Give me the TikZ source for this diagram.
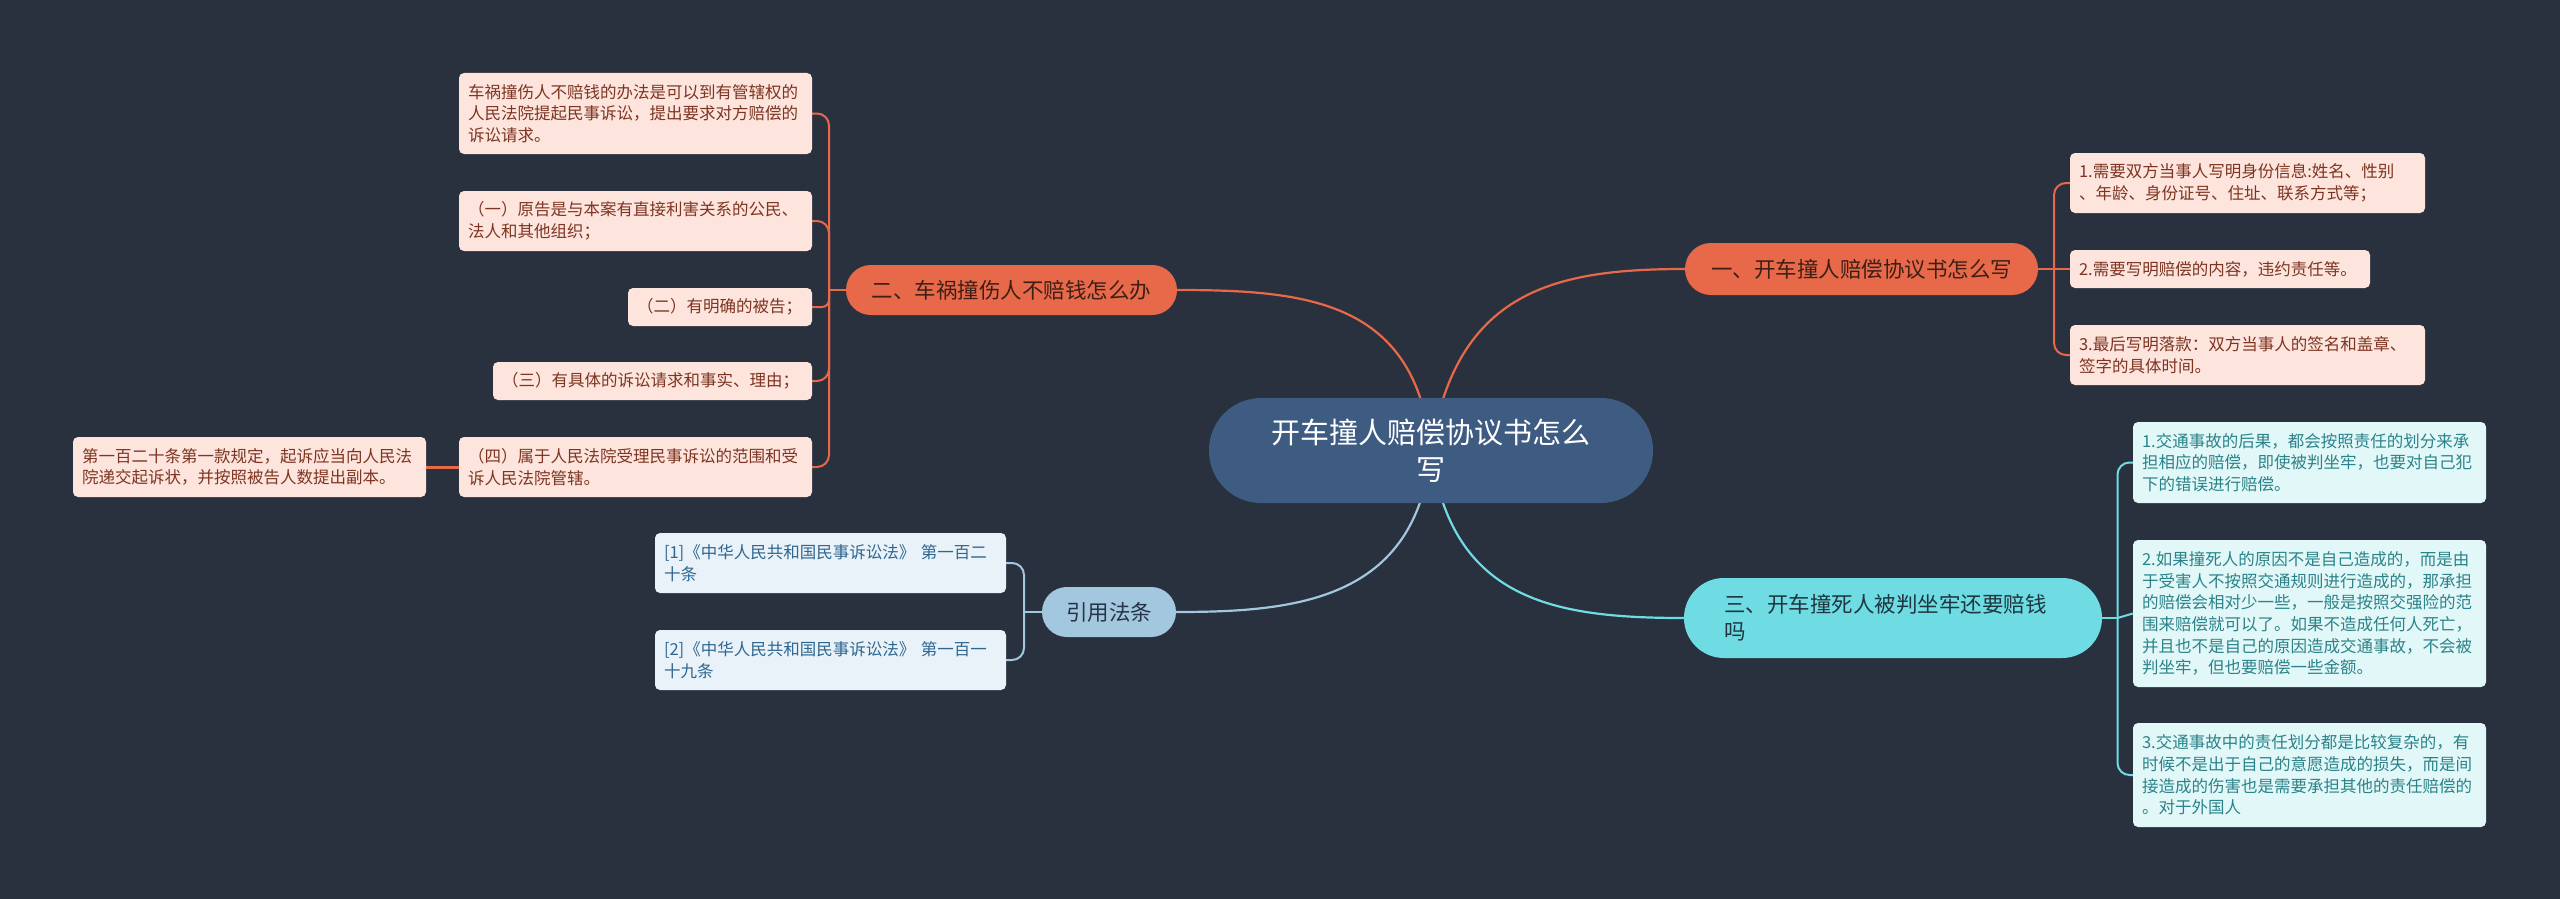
\documentclass[tikz,border=0pt]{standalone}
\usepackage{fontspec}
\setmainfont{Noto Sans CJK SC}
\definecolor{bgc}{HTML}{29313F}
\definecolor{ctrfill}{HTML}{3E5B81}
\definecolor{orng}{HTML}{E8694A}
\definecolor{cyn}{HTML}{6EDCE2}
\definecolor{citec}{HTML}{A2C7DE}
\definecolor{oleaffill}{HTML}{FDE4DC}
\definecolor{oleaftext}{HTML}{7D3522}
\definecolor{cleaffill}{HTML}{E2F7F8}
\definecolor{cleaftext}{HTML}{2A8389}
\definecolor{rleaffill}{HTML}{E8F2F8}
\definecolor{rleaftext}{HTML}{2F6690}
\definecolor{btext}{HTML}{3D1F16}
\definecolor{ctext}{HTML}{1F3640}
\definecolor{citetext}{HTML}{263445}
\pgfdeclarelayer{back}
\pgfdeclarelayer{edges}
\pgfsetlayers{back,edges,main}
\begin{document}
\begin{tikzpicture}[x=1pt,y=-1pt,
  leaf/.style={rectangle, rounded corners=5pt, inner xsep=9pt, inner ysep=0pt, align=left,
    font=\fontsize{16.5pt}{21.7pt}\selectfont},
  oleaf/.style={leaf, fill=oleaffill, text=oleaftext},
  cleaf/.style={leaf, fill=cleaffill, text=cleaftext},
  rleaf/.style={leaf, fill=rleaffill, text=rleaftext},
  branchbox/.style={rectangle, inner sep=0pt, align=center,
    font=\fontsize{21.5pt}{27pt}\selectfont},
  olink/.style={draw=orng, line width=2pt},
  clink/.style={draw=cyn, line width=2pt},
  rlink/.style={draw=citec, line width=2pt},
  mainlink/.style={line width=2.2pt}
]
\useasboundingbox (0,0) rectangle (2560,899);
\begin{pgfonlayer}{back}
\fill[bgc] (0,0) rectangle (2560,899);
\end{pgfonlayer}

% center
\node[fill=ctrfill, rounded corners=52pt, minimum width=444pt, minimum height=105pt,
  text width=340pt, align=center, text=white, inner sep=0pt,
  font=\fontsize{29pt}{37pt}\selectfont] (ctr) at (1431,450.5) {开车撞人赔偿协议书怎么\\写};

% branches
\node[branchbox, fill=orng, text=btext, rounded corners=25.9pt, minimum width=353pt, minimum height=52pt]
  (B1) at (1861.5,269) {一、开车撞人赔偿协议书怎么写};
\node[branchbox, fill=orng, text=btext, rounded corners=24.9pt, minimum width=331pt, minimum height=50pt]
  (B2) at (1011.5,290) {二、车祸撞伤人不赔钱怎么办};
\node[branchbox, fill=cyn, text=ctext, rounded corners=39.9pt, minimum width=418pt, minimum height=80pt,
  text width=338pt, align=left] (B3) at (1893,618) {三、开车撞死人被判坐牢还要赔钱\\吗};
\node[branchbox, fill=citec, text=citetext, rounded corners=24.9pt, minimum width=134pt, minimum height=50pt]
  (CT) at (1109,612) {引用法条};

% branch 1 leaves
\node[oleaf, text width=337pt, minimum height=60pt] (L11) at (2247.5,183)
  {1.需要双方当事人写明身份信息:姓名、性别\\、年龄、身份证号、住址、联系方式等；};
\node[oleaf, text width=282pt, minimum height=38pt] (L12) at (2220,269)
  {2.需要写明赔偿的内容，违约责任等。};
\node[oleaf, text width=337pt, minimum height=60pt] (L13) at (2247.5,355)
  {3.最后写明落款：双方当事人的签名和盖章、\\签字的具体时间。};

% branch 2 leaves
\node[oleaf, text width=335pt, minimum height=81pt] (A) at (635.5,113.5)
  {车祸撞伤人不赔钱的办法是可以到有管辖权的\\人民法院提起民事诉讼，提出要求对方赔偿的\\诉讼请求。};
\node[oleaf, text width=335pt, minimum height=60pt] (B) at (635.5,221)
  {（一）原告是与本案有直接利害关系的公民、\\法人和其他组织；};
\node[oleaf, text width=166pt, minimum height=38pt] (C) at (720,307)
  {（二）有明确的被告；};
\node[oleaf, text width=301pt, minimum height=38pt] (D) at (652.5,381)
  {（三）有具体的诉讼请求和事实、理由；};
\node[oleaf, text width=335pt, minimum height=60pt] (E) at (635.5,467)
  {（四）属于人民法院受理民事诉讼的范围和受\\诉人民法院管辖。};
\node[oleaf, text width=335pt, minimum height=60pt] (F) at (249.5,467)
  {第一百二十条第一款规定，起诉应当向人民法\\院递交起诉状，并按照被告人数提出副本。};

% branch 3 leaves
\node[cleaf, text width=335pt, minimum height=81pt] (C1) at (2309.5,462.5)
  {1.交通事故的后果，都会按照责任的划分来承\\担相应的赔偿，即使被判坐牢，也要对自己犯\\下的错误进行赔偿。};
\node[cleaf, text width=335pt, minimum height=147pt] (C2) at (2309.5,613.5)
  {2.如果撞死人的原因不是自己造成的，而是由\\于受害人不按照交通规则进行造成的，那承担\\的赔偿会相对少一些，一般是按照交强险的范\\围来赔偿就可以了。如果不造成任何人死亡，\\并且也不是自己的原因造成交通事故，不会被\\判坐牢，但也要赔偿一些金额。};
\node[cleaf, text width=335pt, minimum height=104pt] (C3) at (2309.5,775)
  {3.交通事故中的责任划分都是比较复杂的，有\\时候不是出于自己的意愿造成的损失，而是间\\接造成的伤害也是需要承担其他的责任赔偿的\\。对于外国人};

% citation leaves
\node[rleaf, text width=333pt, minimum height=60pt] (R1) at (830.5,563)
  {[1]《中华人民共和国民事诉讼法》 第一百二\\十条};
\node[rleaf, text width=333pt, minimum height=60pt] (R2) at (830.5,660)
  {[2]《中华人民共和国民事诉讼法》 第一百一\\十九条};

% trunk points
\coordinate (t1) at (2054,269);
\coordinate (t2) at (829,290);
\coordinate (t3) at (2117.5,618);
\coordinate (t4) at (1024,612);

\begin{pgfonlayer}{edges}
% center connectors
\draw[mainlink, orng] (ctr.center) .. controls +(25,-160) and +(-130,0) .. (B1.west);
\draw[mainlink, orng] (ctr.center) .. controls +(-15,-150) and +(130,0) .. (B2.east);
\draw[mainlink, cyn] (ctr.center) .. controls +(20,150) and +(-130,0) .. (B3.west);
\draw[mainlink, citec] (ctr.center) .. controls +(-15,150) and +(120,0) .. (CT.east);

% branch 1
\draw[olink] (B1.east) -- (L12.west);
\draw[olink, rounded corners=12pt] (t1) |- (L11.west);
\draw[olink, rounded corners=12pt] (t1) |- (L13.west);

% branch 2
\draw[olink] (B2.west) -- (t2);
\draw[olink, rounded corners=12pt] (t2) |- (A.east);
\draw[olink, rounded corners=12pt] (t2) |- (B.east);
\draw[olink, rounded corners=7pt] (t2) |- (C.east);
\draw[olink, rounded corners=12pt] (t2) |- (D.east);
\draw[olink, rounded corners=12pt] (t2) |- (E.east);
\draw[olink, line width=3pt] (E.west) -- (F.east);

% branch 3
\draw[clink] (B3.east) -- (t3);
\draw[clink, rounded corners=12pt] (t3) |- (C1.west);
\draw[clink] (t3) -- (C2.west);
\draw[clink, rounded corners=12pt] (t3) |- (C3.west);

% citations
\draw[rlink] (CT.west) -- (t4);
\draw[rlink, rounded corners=12pt] (t4) |- (R1.east);
\draw[rlink, rounded corners=12pt] (t4) |- (R2.east);
\end{pgfonlayer}
\end{tikzpicture}
\end{document}
